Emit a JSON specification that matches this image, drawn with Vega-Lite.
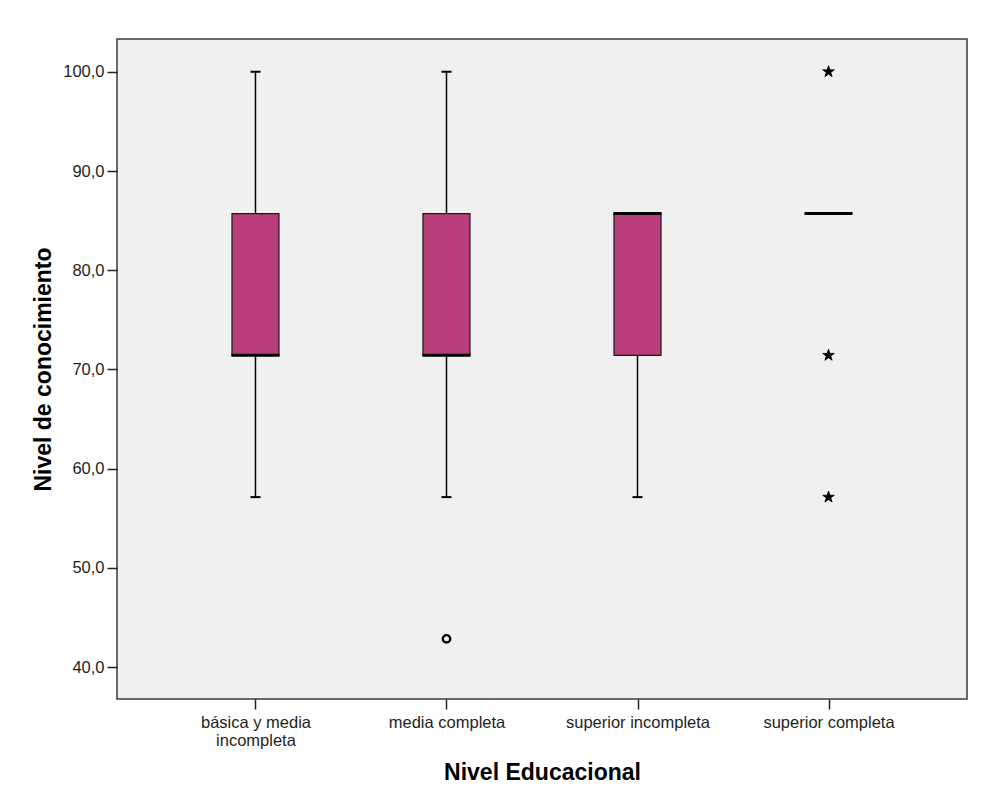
{
  "$schema": "https://vega.github.io/schema/vega-lite/v6.json",
  "width": 850,
  "height": 660,
  "autosize": {"type": "none"},
  "padding": {"left": 117, "top": 39, "right": 36, "bottom": 100},
  "background": "white",
  "config": {
    "font": "Liberation Sans",
    "view": {"fill": "#F0F0F0", "stroke": "#3a3a3a", "strokeWidth": 1.5},
    "axis": {
      "domain": false,
      "grid": false,
      "tickColor": "#222222",
      "tickWidth": 1.5,
      "tickSize": 10,
      "labelFont": "Liberation Sans",
      "labelFontSize": 16.5,
      "labelColor": "#1e1e1e",
      "titleFont": "Liberation Sans",
      "titleFontSize": 23,
      "titleFontWeight": "bold",
      "titleColor": "#000000"
    }
  },
  "datasets": {
    "stats": [
      {"cat": "básica y media incompleta", "lower": 57.14, "q1": 71.43, "median": 71.43, "q3": 85.71, "upper": 100},
      {"cat": "media completa", "lower": 57.14, "q1": 71.43, "median": 71.43, "q3": 85.71, "upper": 100},
      {"cat": "superior incompleta", "lower": 57.14, "q1": 71.43, "median": 85.71, "q3": 85.71, "upper": 85.71},
      {"cat": "superior completa", "lower": 85.71, "q1": 85.71, "median": 85.71, "q3": 85.71, "upper": 85.71}
    ],
    "outliers": [
      {"cat": "media completa", "value": 42.86, "kind": "mild"},
      {"cat": "superior completa", "value": 100, "kind": "extreme"},
      {"cat": "superior completa", "value": 71.43, "kind": "extreme"},
      {"cat": "superior completa", "value": 57.14, "kind": "extreme"}
    ]
  },
  "encoding": {
    "x": {
      "field": "cat",
      "type": "nominal",
      "sort": ["básica y media incompleta", "media completa", "superior incompleta", "superior completa"],
      "scale": {"type": "point", "padding": 0.725},
      "axis": {
        "title": "Nivel Educacional",
        "labelAngle": 0,
        "labelPadding": 5,
        "labelLineHeight": 18,
        "labelExpr": "datum.label == 'básica y media incompleta' ? ['básica y media', 'incompleta'] : datum.label",
        "titlePadding": 13
      }
    }
  },
  "layer": [
    {
      "data": {"name": "stats"},
      "mark": {"type": "rule", "color": "#000000", "strokeWidth": 1.5},
      "encoding": {
        "y": {
          "field": "lower",
          "type": "quantitative",
          "scale": {"domain": [36.8, 103.3], "nice": false, "zero": false},
          "axis": {
            "title": "Nivel de conocimiento",
            "values": [40, 50, 60, 70, 80, 90, 100],
            "labelPadding": 3,
            "titlePadding": 7,
            "labelExpr": "replace(format(datum.value, '.1f'), '.', ',')"
          }
        },
        "y2": {"field": "q1"}
      }
    },
    {
      "data": {"name": "stats"},
      "mark": {"type": "rule", "color": "#000000", "strokeWidth": 1.5},
      "encoding": {
        "y": {"field": "q3", "type": "quantitative"},
        "y2": {"field": "upper"}
      }
    },
    {
      "data": {"name": "stats"},
      "mark": {"type": "tick", "color": "#000000", "size": 10, "thickness": 2, "opacity": 1},
      "encoding": {"y": {"field": "lower", "type": "quantitative"}}
    },
    {
      "data": {"name": "stats"},
      "mark": {"type": "tick", "color": "#000000", "size": 10, "thickness": 2, "opacity": 1},
      "encoding": {"y": {"field": "upper", "type": "quantitative"}}
    },
    {
      "data": {"name": "stats"},
      "mark": {"type": "bar", "size": 47, "fill": "#BA3E7C", "stroke": "#1a1a1a", "strokeWidth": 1.2},
      "encoding": {
        "y": {"field": "q1", "type": "quantitative"},
        "y2": {"field": "q3"}
      }
    },
    {
      "data": {"name": "stats"},
      "mark": {"type": "tick", "color": "#000000", "size": 48, "thickness": 3, "opacity": 1},
      "encoding": {"y": {"field": "median", "type": "quantitative"}}
    },
    {
      "data": {"name": "outliers"},
      "transform": [{"filter": "datum.kind == 'mild'"}],
      "mark": {"type": "point", "shape": "circle", "filled": false, "stroke": "#000000", "strokeWidth": 2.4, "size": 55, "opacity": 1},
      "encoding": {"y": {"field": "value", "type": "quantitative"}}
    },
    {
      "data": {"name": "outliers"},
      "transform": [{"filter": "datum.kind == 'extreme'"}],
      "mark": {"type": "point", "shape": "M0,-1L0.2245,-0.309L0.951,-0.309L0.363,0.118L0.588,0.809L0,0.382L-0.588,0.809L-0.363,0.118L-0.951,-0.309L-0.2245,-0.309Z", "filled": true, "fill": "#000000", "stroke": "#000000", "strokeWidth": 0.8, "size": 150, "opacity": 1},
      "encoding": {"y": {"field": "value", "type": "quantitative"}}
    }
  ]
}
